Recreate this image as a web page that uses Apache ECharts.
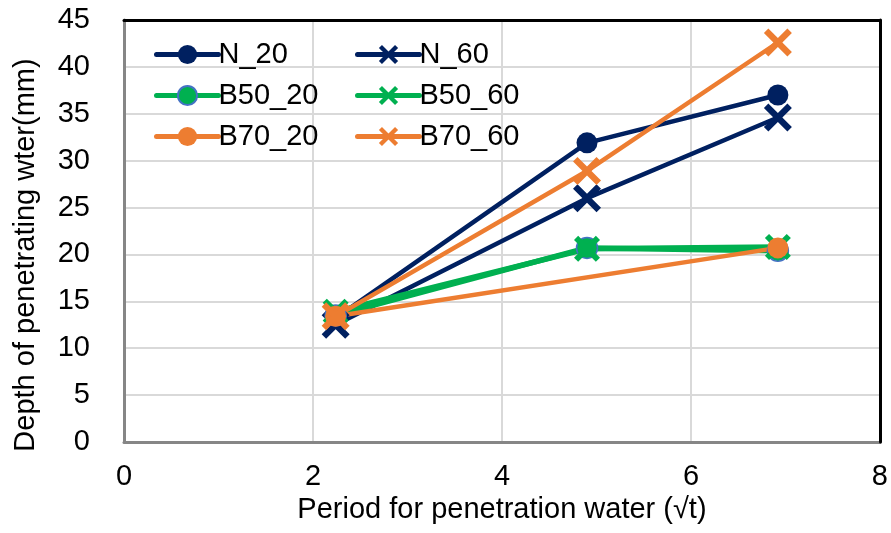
<!DOCTYPE html>
<html>
<head>
<meta charset="utf-8">
<script src="https://cdn.jsdelivr.net/npm/echarts@6/dist/echarts.min.js"></script>
<style>
  html, body { margin: 0; padding: 0; background: #fff; }
  #chart { width: 891px; height: 533px; }
</style>
</head>
<body>
<div id="chart"></div>
<script>
// period (√t) at each measurement
const periods = [2.24, 4.9, 6.92];

// depth of penetrating water (mm)
const n20 = [13.2, 31.9, 37.0];
const n60 = [12.5, 26.0, 34.6];
const b50_20 = [13.5, 20.7, 20.4];
const b50_60 = [13.9, 20.6, 20.8];
const b70_20 = [13.4, null, 20.7];
const b70_60 = [13.4, 28.9, 42.6];

const xTicks = [0, 2, 4, 6, 8];
const yTicks = [0, 5, 10, 15, 20, 25, 30, 35, 40, 45];

const NAVY = '#002060';
const GREEN = '#00B050';
const ORANGE = '#ED7D31';
const FONT = 'Liberation Sans, Arial, sans-serif';

const xMark = 'path://M1.6,0 L5,3.4 L8.4,0 L10,1.6 L6.6,5 L10,8.4 L8.4,10 L5,6.6 L1.6,10 L0,8.4 L3.4,5 L0,1.6 Z';

const pairs = (vals) => periods.map((p, i) => [p, vals[i]]).filter((d) => d[1] != null);

const mkSeries = (name, vals, color, symbol, size, width, border) => ({
  name,
  type: 'line',
  data: pairs(vals),
  symbol,
  symbolSize: size,
  showSymbol: true,
  lineStyle: { color, width },
  itemStyle: border
    ? { color, borderColor: border, borderWidth: 1.5 }
    : { color, borderWidth: 0 },
  emphasis: { disabled: true },
  z: 2,
});

const chart = echarts.init(document.getElementById('chart'), null, { renderer: 'canvas' });

const legendBase = {
  orient: 'vertical',
  top: 35,
  itemWidth: 62,
  itemHeight: 24,
  itemGap: 12,
  lineStyle: { width: 5, cap: 'round' },
  textStyle: { fontFamily: FONT, fontSize: 29, color: '#000', lineHeight: 28, padding: [0, 0, 0, -5] },
};

// plain frame axes for the black top and right border
const frame = { show: true, onZero: false, lineStyle: { color: '#000', width: 3 } };

chart.setOption({
  animation: false,
  grid: { left: 124, right: 9, top: 20, bottom: 91 },
  legend: [
    Object.assign({ left: 149, data: ['N_20', 'B50_20', 'B70_20'] }, legendBase),
    Object.assign({ left: 350, data: ['N_60', 'B50_60', 'B70_60'] }, legendBase),
  ],
  xAxis: [
    {
      type: 'value',
      min: xTicks[0], max: xTicks[xTicks.length - 1], interval: 2,
      name: 'Period for penetration water (\u221At)',
      nameLocation: 'middle',
      nameGap: 50,
      nameTextStyle: { fontFamily: FONT, fontSize: 29, color: '#000' },
      axisLine: { onZero: false, lineStyle: { color: '#868686', width: 3 } },
      axisTick: { show: false },
      axisLabel: { fontFamily: FONT, fontSize: 29, color: '#000', margin: 20 },
      splitLine: { lineStyle: { color: '#d9d9d9', width: 2 } },
      z: 0,
    },
    {
      type: 'value', position: 'top',
      min: xTicks[0], max: xTicks[xTicks.length - 1], interval: 2,
      axisLine: frame, axisTick: { show: false }, axisLabel: { show: false }, splitLine: { show: false },
      z: 1,
    },
  ],
  yAxis: [
    {
      type: 'value',
      min: yTicks[0], max: yTicks[yTicks.length - 1], interval: 5,
      name: 'Depth of penetrating wter(mm)',
      nameLocation: 'middle',
      nameGap: 84,
      nameTextStyle: { fontFamily: FONT, fontSize: 29, color: '#000', padding: [0, 48, 0, 0] },
      axisLine: { show: true, onZero: false, lineStyle: { color: '#868686', width: 3 } },
      axisTick: { show: false },
      axisLabel: { fontFamily: FONT, fontSize: 29, color: '#000', margin: 34 },
      splitLine: { lineStyle: { color: '#d9d9d9', width: 2 } },
      z: 0,
    },
    {
      type: 'value', position: 'right',
      min: yTicks[0], max: yTicks[yTicks.length - 1], interval: 5,
      axisLine: frame, axisTick: { show: false }, axisLabel: { show: false }, splitLine: { show: false },
      z: 1,
    },
  ],
  series: [
    mkSeries('N_20', n20, NAVY, 'circle', 21, 4.5),
    mkSeries('N_60', n60, NAVY, xMark, 28, 4.5),
    mkSeries('B50_20', b50_20, GREEN, 'circle', 21, 5.5, '#4472C4'),
    mkSeries('B50_60', b50_60, GREEN, xMark, 26, 5.5),
    Object.assign(mkSeries('B70_20', b70_20, ORANGE, 'circle', 21, 4.5), { connectNulls: true }),
    mkSeries('B70_60', b70_60, ORANGE, xMark, 28, 4.5),
  ],
});
</script>
</body>
</html>
